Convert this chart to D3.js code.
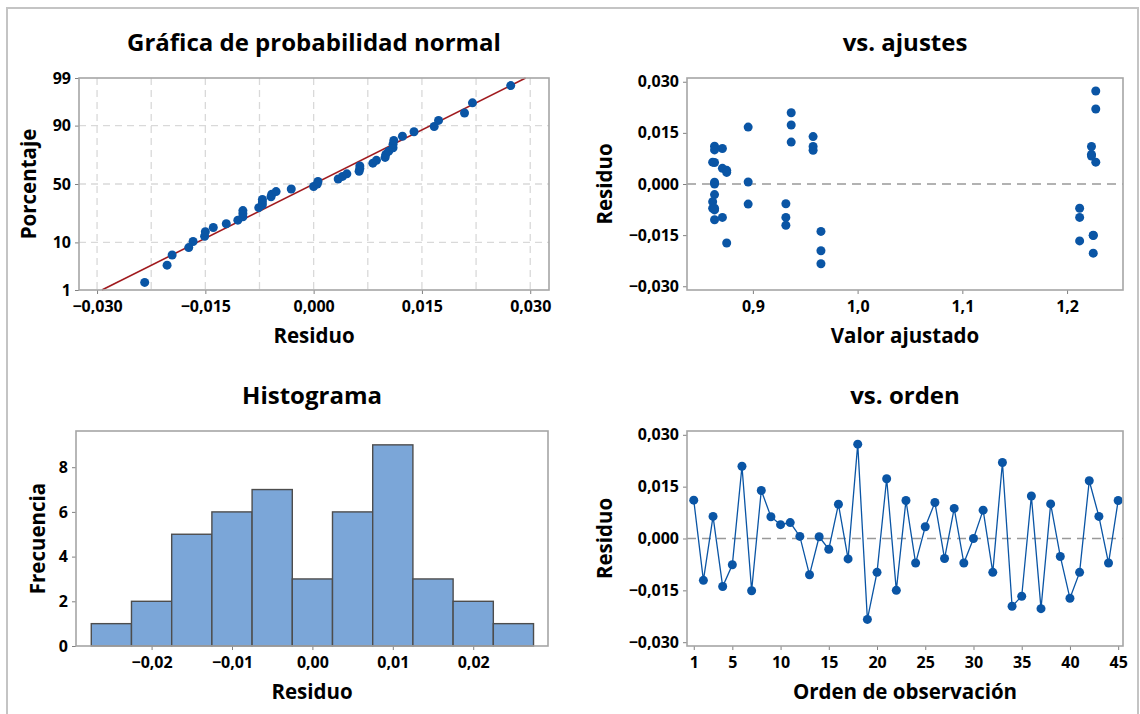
<!DOCTYPE html>
<html>
<head>
<meta charset="utf-8">
<script src="https://cdn.jsdelivr.net/npm/d3@7"></script>
<style>
  body { margin: 0; background: #fff; }
  svg { font-family: "Open Sans", sans-serif; font-weight: 700; }
  .tick text { font-family: "Open Sans", sans-serif; font-size: 16px; font-weight: 700; fill: #000; }
  .tick line { stroke: #808080; }
</style>
</head>
<body>
<svg width="1140" height="714"></svg>
<script>
// residuals in observation order (1..45) and their fitted values
const residuals = [
  0.0111, -0.0121, 0.0064, -0.0139, -0.0076, 0.0209, -0.0151, 0.0139, 0.0063, 0.0040,
  0.0046, 0.0006, -0.0105, 0.0005, -0.0031, 0.0099, -0.0059, 0.0273, -0.0234, -0.0098,
  0.0173, -0.0150, 0.0110, -0.0071, 0.0034, 0.0104, -0.0058, 0.0087, -0.0071, 0.0000,
  0.0082, -0.0098, 0.0220, -0.0196, -0.0167, 0.0123, -0.0203, 0.0100, -0.0052, -0.0173,
  -0.0098, 0.0167, 0.0064, -0.0071, 0.0110
];
const fitted = [
  0.8634, 0.9315, 0.8616, 0.9650, 0.8634, 0.9366, 1.2250, 0.9575, 0.8634, 0.8750,
  0.8709, 0.8955, 0.8634, 0.8634, 0.8634, 0.9575, 0.8955, 1.2274, 0.9650, 0.8709,
  0.9366, 1.2250, 0.9575, 0.8616, 0.8750, 0.8709, 0.9315, 1.2233, 1.2120, 0.8634,
  1.2233, 0.9315, 1.2274, 0.9650, 1.2120, 0.9366, 1.2250, 0.8634, 0.8616, 0.8750,
  1.2120, 0.8955, 1.2274, 0.8634, 1.2233
];

const histEdges = [-0.0275, -0.0225, -0.0175, -0.0125, -0.0075, -0.0025, 0.0025, 0.0075, 0.0125, 0.0175, 0.0225, 0.0275];

const probTicks = [1, 10, 50, 90, 99];
const probGridX = [-0.03, -0.0225, -0.015, -0.0075, 0, 0.0075, 0.015, 0.0225, 0.03];
const residTicks = [-0.03, -0.015, 0, 0.015, 0.03];
const fitTicks = [0.9, 1.0, 1.1, 1.2];
const histXTicks = [-0.02, -0.01, 0, 0.01, 0.02];
const histYTicks = [0, 2, 4, 6, 8];
const orderTicks = [1, 5, 10, 15, 20, 25, 30, 35, 40, 45];

const svg = d3.select("svg");
const blue = "#0a55a5", red = "#a01a1e", frameCol = "#a6a6a6";

const loc = d3.formatLocale({ decimal: ",", thousands: ".", grouping: [3], currency: ["", ""] });
const f3 = loc.format(".3f"), f2 = loc.format(".2f"), f1 = loc.format(".1f");

// inverse normal cdf (Acklam)
function probit(p) {
  const a = [-39.69683028665376, 220.9460984245205, -275.9285104469687, 138.3577518672690, -30.66479806614716, 2.506628277459239];
  const b = [-54.47609879822406, 161.5858368580409, -155.6989798598866, 66.80131188771972, -13.28068155288572];
  const c = [-0.007784894002430293, -0.3223964580411365, -2.400758277161838, -2.549732539343734, 4.374664141464968, 2.938163982698783];
  const d = [0.007784695709041462, 0.3224671290700398, 2.445134137142996, 3.754408661907416];
  const pl = 0.02425;
  if (p < pl) {
    const q = Math.sqrt(-2 * Math.log(p));
    return (((((c[0] * q + c[1]) * q + c[2]) * q + c[3]) * q + c[4]) * q + c[5]) / ((((d[0] * q + d[1]) * q + d[2]) * q + d[3]) * q + 1);
  }
  if (p > 1 - pl) return -probit(1 - p);
  const q = p - 0.5, r = q * q;
  return (((((a[0] * r + a[1]) * r + a[2]) * r + a[3]) * r + a[4]) * r + a[5]) * q / (((((b[0] * r + b[1]) * r + b[2]) * r + b[3]) * r + b[4]) * r + 1);
}

// draws axes, title and axis labels for one panel
function panel(fr, x, y, o) {
  const g = svg.append("g");
  g.append("g")
    .attr("transform", `translate(0,${fr.y1})`)
    .call(d3.axisBottom(x).tickValues(o.xTicks).tickFormat(o.xFmt).tickSize(4).tickPadding(7))
    .call(a => a.select(".domain").remove());
  g.append("g")
    .attr("transform", `translate(${fr.x0},0)`)
    .call(d3.axisLeft(y).tickValues(o.yTicks).tickFormat(o.yFmt).tickSize(4).tickPadding(4))
    .call(a => a.select(".domain").remove());
  g.append("text")
    .attr("x", (fr.x0 + fr.x1) / 2).attr("y", fr.y0 - 27)
    .attr("text-anchor", "middle").attr("font-size", 24)
    .text(o.title);
  g.append("text")
    .attr("x", (fr.x0 + fr.x1) / 2).attr("y", fr.y1 + 53)
    .attr("text-anchor", "middle").attr("font-size", 20.5)
    .text(o.xLabel);
  g.append("text")
    .attr("transform", `translate(${o.yLabelX},${(fr.y0 + fr.y1) / 2}) rotate(-90)`)
    .attr("text-anchor", "middle").attr("font-size", 20.5)
    .text(o.yLabel);
  return g;
}

function frameRect(fr) {
  svg.append("rect")
    .attr("x", fr.x0).attr("y", fr.y0)
    .attr("width", fr.x1 - fr.x0).attr("height", fr.y1 - fr.y0)
    .attr("fill", "none").attr("stroke", frameCol).attr("stroke-width", 1.6);
}

// outer border
svg.append("rect")
  .attr("x", 7).attr("y", 8).attr("width", 1131).attr("height", 730)
  .attr("fill", "none").attr("stroke", "#c4c4c4").attr("stroke-width", 2);

// ---- normal probability plot
const fr1 = { x0: 79, x1: 549, y0: 78, y1: 290 };
const x1 = d3.scaleLinear().domain([-0.0325, 0.0326]).range([fr1.x0, fr1.x1]);
const y1 = d3.scaleLinear().domain([probit(0.01), probit(0.99)]).range([fr1.y1, fr1.y0]);
const probZ = probTicks.map(p => probit(p / 100));

svg.append("g").selectAll("line").data(probGridX).join("line")
  .attr("x1", d => x1(d)).attr("x2", d => x1(d))
  .attr("y1", fr1.y0).attr("y2", fr1.y1)
  .attr("stroke", "#d9d9d9").attr("stroke-width", 1.3).attr("stroke-dasharray", "7,5");
svg.append("g").selectAll("line").data(probZ.slice(1, -1)).join("line")
  .attr("x1", fr1.x0).attr("x2", fr1.x1)
  .attr("y1", d => y1(d)).attr("y2", d => y1(d))
  .attr("stroke", "#d9d9d9").attr("stroke-width", 1.3).attr("stroke-dasharray", "7,5");

panel(fr1, x1, y1, {
  xTicks: residTicks, xFmt: f3, yTicks: probZ, yFmt: (d, i) => probTicks[i],
  title: "Gráfica de probabilidad normal", xLabel: "Residuo", yLabel: "Porcentaje", yLabelX: 36
});

const mu = d3.mean(residuals), sd = d3.deviation(residuals);
svg.append("line")
  .attr("x1", x1(mu + sd * probit(0.01))).attr("y1", y1(probit(0.01)))
  .attr("x2", x1(mu + sd * probit(0.99))).attr("y2", y1(probit(0.99)))
  .attr("stroke", red).attr("stroke-width", 1.6);

const sorted = residuals.slice().sort(d3.ascending);
const n = sorted.length;
svg.append("g").selectAll("circle").data(sorted).join("circle")
  .attr("cx", d => x1(d))
  .attr("cy", (d, i) => y1(probit((i + 1 - 0.3) / (n + 0.4))))
  .attr("r", 4.5).attr("fill", blue);
frameRect(fr1);

// ---- residuals vs fits
const fr2 = { x0: 687, x1: 1123, y0: 78, y1: 290 };
const x2 = d3.scaleLinear().domain([0.8371, 1.2534]).range([fr2.x0, fr2.x1]);
const y2 = d3.scaleLinear().domain([-0.0311, 0.0311]).range([fr2.y1, fr2.y0]);
panel(fr2, x2, y2, {
  xTicks: fitTicks, xFmt: f1, yTicks: residTicks, yFmt: f3,
  title: "vs. ajustes", xLabel: "Valor ajustado", yLabel: "Residuo", yLabelX: 612
});
svg.append("line")
  .attr("x1", fr2.x0).attr("x2", fr2.x1).attr("y1", y2(0)).attr("y2", y2(0))
  .attr("stroke", "#999").attr("stroke-width", 1.6).attr("stroke-dasharray", "9,6");
svg.append("g").selectAll("circle").data(residuals).join("circle")
  .attr("cx", (d, i) => x2(fitted[i]))
  .attr("cy", d => y2(d))
  .attr("r", 4.5).attr("fill", blue);
frameRect(fr2);

// ---- histogram
const fr3 = { x0: 76, x1: 548, y0: 431, y1: 646 };
const x3 = d3.scaleLinear().domain([-0.0294, 0.0293]).range([fr3.x0, fr3.x1]);
const y3 = d3.scaleLinear().domain([0, 9.62]).range([fr3.y1, fr3.y0]);
const bins = d3.bin()
  .domain([histEdges[0], histEdges[histEdges.length - 1]])
  .thresholds(histEdges.slice(1, -1))(residuals);
panel(fr3, x3, y3, {
  xTicks: histXTicks, xFmt: f2, yTicks: histYTicks, yFmt: d => d,
  title: "Histograma", xLabel: "Residuo", yLabel: "Frecuencia", yLabelX: 45
});
svg.append("g").selectAll("rect").data(bins).join("rect")
  .attr("x", d => x3(d.x0)).attr("width", d => x3(d.x1) - x3(d.x0))
  .attr("y", d => y3(d.length)).attr("height", d => y3(0) - y3(d.length))
  .attr("fill", "#7ba6d8").attr("stroke", "#4d4d4d").attr("stroke-width", 1.4);
frameRect(fr3);

// ---- residuals vs order
const fr4 = { x0: 687, x1: 1123, y0: 431, y1: 646 };
const x4 = d3.scaleLinear().domain([0.3, 45.5]).range([fr4.x0, fr4.x1]);
const y4 = d3.scaleLinear().domain([-0.0311, 0.0311]).range([fr4.y1, fr4.y0]);
panel(fr4, x4, y4, {
  xTicks: orderTicks, xFmt: d => d, yTicks: residTicks, yFmt: f3,
  title: "vs. orden", xLabel: "Orden de observación", yLabel: "Residuo", yLabelX: 612
});
svg.append("line")
  .attr("x1", fr4.x0).attr("x2", fr4.x1).attr("y1", y4(0)).attr("y2", y4(0))
  .attr("stroke", "#999").attr("stroke-width", 1.6).attr("stroke-dasharray", "9,6");
svg.append("path")
  .datum(residuals)
  .attr("fill", "none").attr("stroke", blue).attr("stroke-width", 1.3)
  .attr("d", d3.line().x((d, i) => x4(i + 1)).y(d => y4(d)));
svg.append("g").selectAll("circle").data(residuals).join("circle")
  .attr("cx", (d, i) => x4(i + 1))
  .attr("cy", d => y4(d))
  .attr("r", 4.5).attr("fill", blue);
frameRect(fr4);
</script>
</body>
</html>
